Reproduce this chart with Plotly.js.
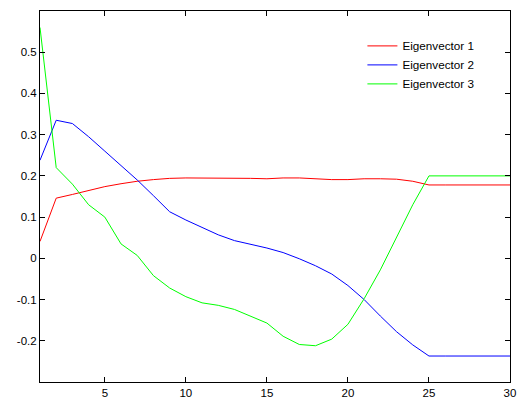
<!DOCTYPE html>
<html>
<head>
<meta charset="utf-8">
<script src="https://cdn.plot.ly/plotly-3.0.1.min.js"></script>
<style>html,body{margin:0;padding:0;background:#fff;}#chart{width:519px;height:399px;}</style>
</head>
<body>
<div id="chart"></div>
<script>
const xIndex = [1,2,3,4,5,6,7,8,9,10,11,12,13,14,15,16,17,18,19,20,21,22,23,24,25,26,27,28,29,30];
const eigenvector1 = [0.041,0.146,0.155,0.165,0.174,0.181,0.187,0.191,0.194,0.195,0.195,0.195,0.195,0.194,0.193,0.195,0.195,0.193,0.191,0.191,0.193,0.193,0.192,0.187,0.178,0.178,0.178,0.178,0.178,0.178];
const eigenvector2 = [0.238,0.335,0.327,0.295,0.26,0.225,0.19,0.152,0.113,0.093,0.074,0.057,0.043,0.034,0.025,0.014,-0.001,-0.018,-0.038,-0.066,-0.1,-0.14,-0.178,-0.21,-0.237,-0.237,-0.237,-0.237,-0.237,-0.237];
const eigenvector3 = [0.56,0.22,0.18,0.13,0.10,0.035,0.007,-0.042,-0.072,-0.093,-0.108,-0.114,-0.124,-0.14,-0.157,-0.189,-0.209,-0.212,-0.196,-0.16,-0.098,-0.028,0.052,0.13,0.2,0.2,0.2,0.2,0.2,0.2];
const seriesNames = ["Eigenvector 1","Eigenvector 2","Eigenvector 3"];
const xTickVals = [5,10,15,20,25,30];
const xTickText = ["5","10","15","20","25","30"];
const yTickVals = [-0.2,-0.1,0,0.1,0.2,0.3,0.4,0.5];
const yTickText = ["-0.2","-0.1","0","0.1","0.2","0.3","0.4","0.5"];

const colors = ["#ff0000","#0000ff","#00ff00"];
const ys = [eigenvector1, eigenvector2, eigenvector3];
const traces = ys.map((y,i)=>({
  x: xIndex, y: y, name: seriesNames[i], type: "scatter", mode: "lines",
  line: {color: colors[i], width: 1}
}));

const axisCommon = {
  showline: true, linecolor: "#000", linewidth: 1, mirror: "ticks",
  ticks: "inside", ticklen: 5, tickcolor: "#000", tickwidth: 1,
  showgrid: false, zeroline: false, automargin: false,
  tickfont: {family: "Liberation Sans, Arial, sans-serif", size: 11.5, color: "#000"}
};

const layout = {
  width: 519, height: 399,
  margin: {l: 40, r: 9, t: 11, b: 17},
  paper_bgcolor: "#fff", plot_bgcolor: "#fff",
  showlegend: true,
  legend: {x: 0.686, y: 0.945, xanchor: "left", yanchor: "top", bgcolor: "rgba(255,255,255,0)", borderwidth: 0,
    tracegroupgap: 0,
    font: {family: "Liberation Sans, Arial, sans-serif", size: 11.7, color: "#000"}},
  xaxis: Object.assign({}, axisCommon, {range: [1,30], tickvals: xTickVals, ticktext: xTickText}),
  yaxis: Object.assign({}, axisCommon, {range: [-0.3,0.6], tickvals: yTickVals, ticktext: yTickText})
};

Plotly.newPlot("chart", traces, layout, {displayModeBar: false, staticPlot: true});
</script>
</body>
</html>
